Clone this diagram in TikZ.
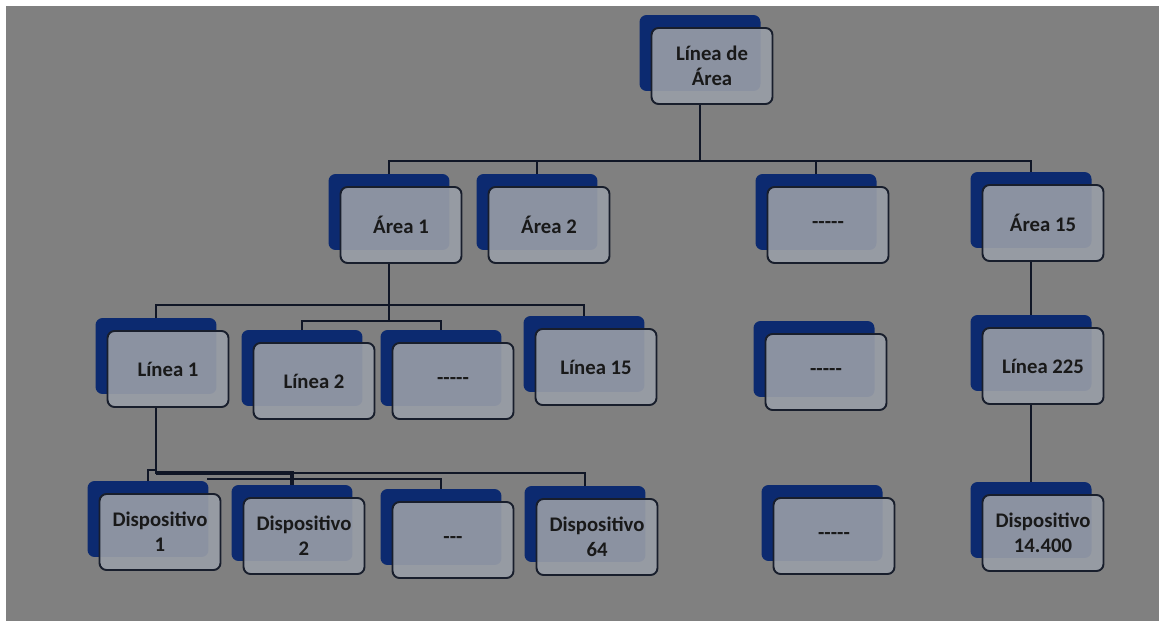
\documentclass[tikz,border=0pt]{standalone}
\usepackage{fontspec}
\setmainfont{Carlito}
\usetikzlibrary{shadows, calc}

\definecolor{bggray}{RGB}{128,128,128}
\definecolor{backnavy}{RGB}{12,42,112}
\definecolor{frontgray}{RGB}{153,158,167}
\definecolor{edgedark}{RGB}{24,30,44}
\definecolor{linkdark}{RGB}{16,22,38}

\begin{document}
\begin{tikzpicture}[
    x=0.02cm, y=-0.02cm,
    unit/.style={draw=edgedark, line width=1.1pt, rounded corners=0.14cm, fill=frontgray, fill opacity=0.9, text opacity=1,
        minimum width=2.42cm, minimum height=1.52cm, inner sep=0pt, align=center,
        font=\bfseries\fontsize{11.8}{14}\selectfont, text=black!90,
        general shadow={fill=backnavy, draw=none, fill opacity=1, shadow xshift=-0.24cm, shadow yshift=0.26cm}},
    link/.style={draw=linkdark, line width=0.9pt}
]
    % Background
    \fill[white] (0,0) rectangle (1159,621);
    \fill[bggray] (6,6) rectangle (1159,621);
    \useasboundingbox (0,0) rectangle (1159,621);

    % Root
    \node[unit] (top) at (712,66) {Línea de\\Área};

    % Areas
    \node[unit] (a1) at (401,225) {Área 1};
    \node[unit] (a2) at (549,225) {Área 2};
    \node[unit] (adots) at (828,225) {-{}-{}-{}-{}-};
    \node[unit] (a15) at (1043,223) {Área 15};

    % Lines
    \node[unit] (l1) at (168,369) {Línea 1};
    \node[unit] (l2) at (314,381) {Línea 2};
    \node[unit] (ldots) at (453,381) {-{}-{}-{}-{}-};
    \node[unit] (l15) at (596,367) {Línea 15};
    \node[unit] (mdots) at (826,372) {-{}-{}-{}-{}-};
    \node[unit] (l225) at (1043,366) {Línea 225};

    % Devices
    \node[unit] (d1) at (160,532) {Dispositivo\\1};
    \node[unit] (d2) at (304,536) {Dispositivo\\2};
    \node[unit] (ddots) at (453,540) {-{}-{}-};
    \node[unit] (d64) at (597,537) {Dispositivo\\64};
    \node[unit] (ddots2) at (834,536) {-{}-{}-{}-{}-};
    \node[unit] (d144) at (1043,533) {Dispositivo\\14.400};

    % Connector end points (top of back card, bottom of front card)
    \foreach \n in {top,a1,a2,adots,a15,l1,l2,ldots,l15,l225,d1,d2,ddots,d64,d144}{
        \coordinate (\n-in) at ([shift={(-12,-12)}]\n.north);
        \coordinate (\n-out) at ([shift={(-12,0)}]\n.south);
    }
    \coordinate (bus1) at (0,161);
    \coordinate (bus2) at (0,305);
    \coordinate (bus2b) at (0,321);
    \coordinate (bus3a) at (0,470);
    \coordinate (bus3) at (0,473);
    \coordinate (stub) at (207,479);

    % Root to areas
    \draw[link, line width=1.2pt] (top-out) -- (top-out |- bus1);
    \draw[link] (a1-in) |- (a15-in |- bus1) -- (a15-in);
    \draw[link] (a2-in) -- (a2-in |- bus1);
    \draw[link] (adots-in) -- (adots-in |- bus1);

    % Area 1 to lines
    \draw[link] (a1-out) -- (a1-out |- bus2b);
    \draw[link] (l1-in) |- (l15-in |- bus2) -- (l15-in);
    \draw[link] (l2-in) |- (ldots-in |- bus2b) -- (ldots-in);

    % Line 1 to devices
    \draw[link] (l1-out) -- (l1-out |- bus3) -- (d64-in |- bus3) -- (d64-in);
    \draw[link, line width=1.8pt] (l1-out |- bus3) -| (d2-in);
    \draw[link] (d1-in) |- (l1-out |- bus3a);
    \draw[link] (stub) -| (ddots-in);

    % Right column
    \draw[link] (a15-out) -- (l225-in);
    \draw[link] (l225-out) -- (d144-in);
\end{tikzpicture}
\end{document}
